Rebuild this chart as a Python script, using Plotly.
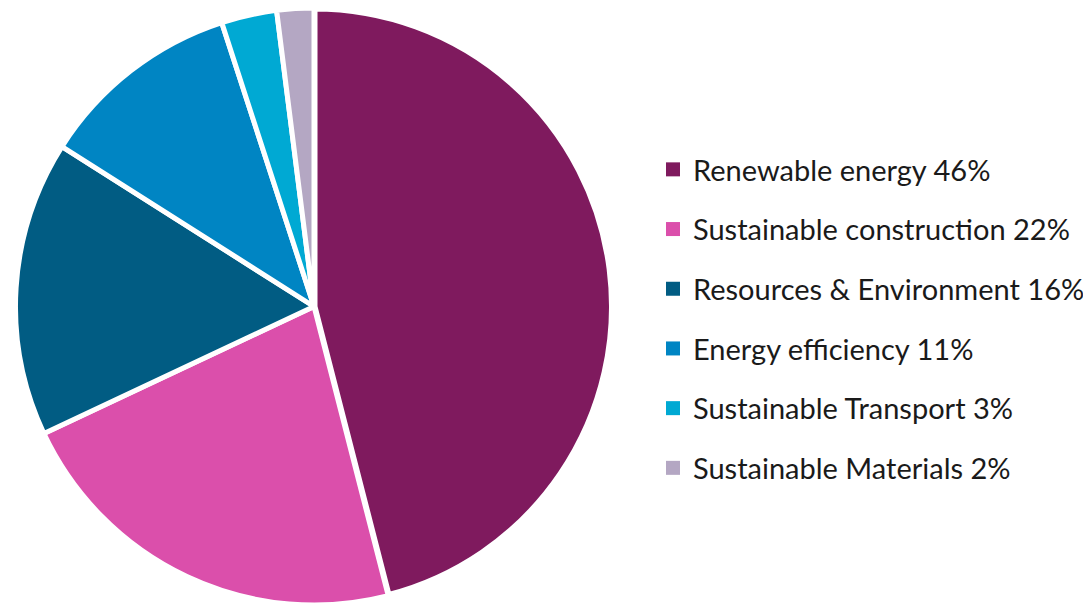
import plotly.graph_objects as go

categories = ["Renewable energy", "Sustainable construction", "Resources & Environment",
              "Energy efficiency", "Sustainable Transport", "Sustainable Materials"]
values = [46, 22, 16, 11, 3, 2]
colors = ["#7F1A5E", "#DB4FAB", "#015C83", "#0085C3", "#00A9D3", "#B4A7C3"]
border_widths = [7, 5, 5, 5, 5, 5]

W, H = 1091, 605

fig = go.Figure()
fig.add_trace(go.Pie(
    labels=categories, values=values, sort=False, direction="clockwise", rotation=0,
    marker=dict(colors=colors, line=dict(color="white", width=border_widths)),
    textinfo="none", hoverinfo="label+percent", showlegend=False,
    domain=dict(x=[7.5/W, 604.5/W], y=[1 - 597/H, 1]),
))

for i, (c, v, col) in enumerate(zip(categories, values, colors)):
    fig.add_trace(go.Scatter(
        x=[None], y=[None], mode="markers", name=f"{c} {v}%",
        marker=dict(symbol="square", size=14, color=col),
        legendgroup=f"g{i}", showlegend=True,
    ))

fig.update_layout(
    width=W, height=H,
    margin=dict(l=0, r=0, t=0, b=0),
    paper_bgcolor="white", plot_bgcolor="white",
    xaxis=dict(visible=False), yaxis=dict(visible=False),
    legend=dict(
        x=645/W, xanchor="left", y=1 - 136/H, yanchor="top",
        font=dict(family="Lato, sans-serif", size=29, color="#1a1a1a"),
        traceorder="grouped", tracegroupgap=19, itemsizing="trace",
        bgcolor="rgba(0,0,0,0)",
    ),
)

fig.write_html("out.html")
